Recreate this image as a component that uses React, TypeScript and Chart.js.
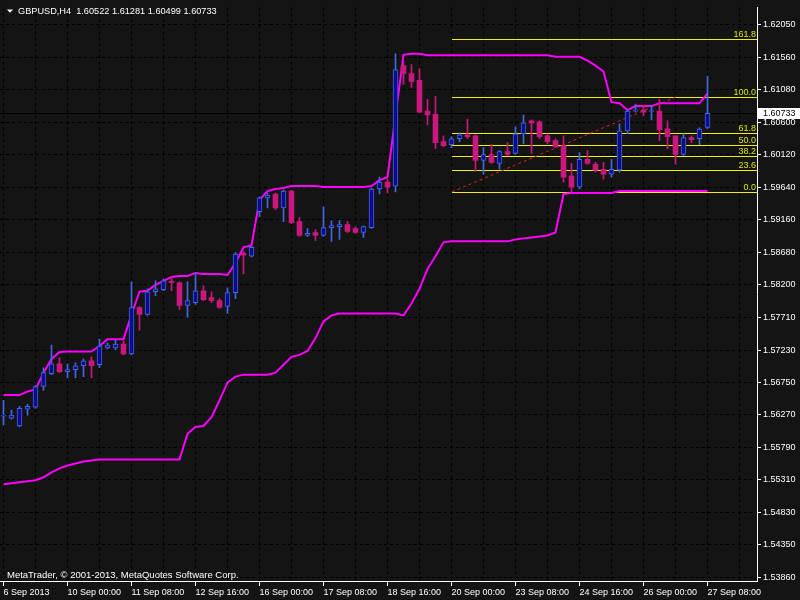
import React, { useEffect, useRef } from 'react';
import { Chart, registerables } from 'chart.js';

Chart.register(...registerables);

const headerText = 'GBPUSD,H4  1.60522 1.61281 1.60499 1.60733';
const watermarkText = 'MetaTrader, \u00A9 2001-2013, MetaQuotes Software Corp.';

const opens = [
  1.56254, 1.56224, 1.56108, 1.56356, 1.56385, 1.56692, 1.56881, 1.57027, 1.56911, 1.56940,
  1.56998, 1.57071, 1.57013, 1.57261, 1.57261, 1.57319, 1.57173, 1.57860, 1.57757, 1.58093,
  1.58122, 1.58239, 1.58225, 1.57889, 1.57933, 1.58108, 1.58006, 1.57962, 1.57874, 1.58079,
  1.58663, 1.58619, 1.59276, 1.59480, 1.59539, 1.59334, 1.59582, 1.59130, 1.58925, 1.58969,
  1.58925, 1.59042, 1.59057, 1.59086, 1.59028, 1.58969, 1.59042, 1.59612, 1.59714, 1.59655,
  1.61437, 1.61320, 1.61218, 1.60765, 1.60721, 1.60312, 1.60269, 1.60356, 1.60415, 1.60400,
  1.60035, 1.60123, 1.59991, 1.60167, 1.60137, 1.60429, 1.60619, 1.60604, 1.60400, 1.60327,
  1.60254, 1.59802, 1.59641, 1.60050, 1.59977, 1.59904, 1.59831, 1.59889, 1.60473, 1.60765,
  1.60779, 1.60758, 1.60765, 1.60502, 1.60400, 1.60123, 1.60371, 1.60356, 1.60522,
];
const highs = [
  1.56487, 1.56341, 1.56400, 1.56429, 1.56706, 1.56969, 1.57305, 1.57115, 1.57027, 1.57042,
  1.57100, 1.57130, 1.57392, 1.57334, 1.57378, 1.57363, 1.58239, 1.57874, 1.58137, 1.58254,
  1.58283, 1.58312, 1.58239, 1.58239, 1.58371, 1.58181, 1.58093, 1.57991, 1.58152, 1.58677,
  1.58692, 1.58765, 1.59495, 1.59553, 1.59553, 1.59597, 1.59597, 1.59188, 1.59028, 1.59013,
  1.59349, 1.59144, 1.59144, 1.59130, 1.59057, 1.59064, 1.59626, 1.59787, 1.59758, 1.61612,
  1.61495, 1.61451, 1.61393, 1.60940, 1.60984, 1.60400, 1.60385, 1.60444, 1.60648, 1.60415,
  1.60225, 1.60269, 1.60181, 1.60298, 1.60531, 1.60707, 1.60634, 1.60619, 1.60429, 1.60356,
  1.60400, 1.59991, 1.60152, 1.60181, 1.60006, 1.60006, 1.60050, 1.60575, 1.60794, 1.60867,
  1.60852, 1.60838, 1.60940, 1.60619, 1.60400, 1.60429, 1.60400, 1.60517, 1.61281,
];
const lows = [
  1.56122, 1.56210, 1.56093, 1.56268, 1.56370, 1.56633, 1.56867, 1.56896, 1.56823, 1.56823,
  1.56838, 1.56823, 1.56969, 1.57246, 1.57232, 1.57159, 1.57159, 1.57524, 1.57743, 1.58035,
  1.58108, 1.58108, 1.57830, 1.57714, 1.57904, 1.57962, 1.57933, 1.57845, 1.57772, 1.57991,
  1.58356, 1.58604, 1.59203, 1.59334, 1.59305, 1.59130, 1.59101, 1.58911, 1.58911, 1.58852,
  1.58911, 1.58838, 1.58867, 1.58969, 1.58955, 1.58896, 1.59028, 1.59539, 1.59553, 1.59568,
  1.61159, 1.61115, 1.60736, 1.60561, 1.60210, 1.60239, 1.60225, 1.60312, 1.60356, 1.59874,
  1.59831, 1.59991, 1.59904, 1.60108, 1.60123, 1.60283, 1.60137, 1.60356, 1.60283, 1.60225,
  1.59714, 1.59560, 1.59612, 1.59977, 1.59860, 1.59758, 1.59787, 1.59860, 1.60429, 1.60750,
  1.60692, 1.60634, 1.60327, 1.60210, 1.59977, 1.60108, 1.60298, 1.60269, 1.60499,
];
const closes = [
  1.56268, 1.56268, 1.56370, 1.56400, 1.56692, 1.56896, 1.57027, 1.56911, 1.56940, 1.56998,
  1.57071, 1.56998, 1.57290, 1.57305, 1.57319, 1.57173, 1.57860, 1.57757, 1.58093, 1.58137,
  1.58254, 1.58232, 1.57889, 1.57962, 1.58108, 1.57976, 1.57962, 1.57860, 1.58079, 1.58648,
  1.58633, 1.58750, 1.59480, 1.59524, 1.59334, 1.59582, 1.59115, 1.58925, 1.58955, 1.58925,
  1.59042, 1.59071, 1.59086, 1.58984, 1.58969, 1.59057, 1.59612, 1.59714, 1.59641, 1.61378,
  1.61320, 1.61203, 1.60750, 1.60707, 1.60298, 1.60254, 1.60356, 1.60415, 1.60385, 1.60035,
  1.60123, 1.60006, 1.60167, 1.60123, 1.60429, 1.60590, 1.60590, 1.60385, 1.60312, 1.60239,
  1.59787, 1.59641, 1.60050, 1.59991, 1.59889, 1.59831, 1.59904, 1.60473, 1.60765, 1.60779,
  1.60750, 1.60765, 1.60488, 1.60385, 1.60123, 1.60371, 1.60342, 1.60502, 1.60733,
];
const upperBand = [
  1.56565, 1.56565, 1.56565, 1.56618, 1.56648, 1.56896, 1.57100, 1.57202, 1.57209, 1.57209,
  1.57209, 1.57209, 1.57290, 1.57392, 1.57392, 1.57392, 1.57757, 1.58093, 1.58108, 1.58195,
  1.58254, 1.58312, 1.58327, 1.58327, 1.58371, 1.58356, 1.58356, 1.58356, 1.58342, 1.58517,
  1.58750, 1.58779, 1.59451, 1.59582, 1.59612, 1.59626, 1.59655, 1.59655, 1.59655, 1.59655,
  1.59641, 1.59641, 1.59641, 1.59641, 1.59641, 1.59641, 1.59655, 1.59743, 1.59787, 1.60692,
  1.61597, 1.61612, 1.61612, 1.61590, 1.61590, 1.61590, 1.61590, 1.61590, 1.61590, 1.61590,
  1.61590, 1.61590, 1.61590, 1.61590, 1.61590, 1.61590, 1.61590, 1.61590, 1.61590, 1.61568,
  1.61568, 1.61568, 1.61568, 1.61510, 1.61437, 1.61349, 1.60896, 1.60882, 1.60780, 1.60838,
  1.60838, 1.60838, 1.60882, 1.60882, 1.60882, 1.60882, 1.60882, 1.60882, 1.61028,
];
const lowerBand = [
  1.55246, 1.55261, 1.55276, 1.55290, 1.55305, 1.55349, 1.55422, 1.55480, 1.55524, 1.55553,
  1.55582, 1.55597, 1.55611, 1.55611, 1.55611, 1.55611, 1.55611, 1.55611, 1.55611, 1.55611,
  1.55611, 1.55611, 1.55611, 1.55991, 1.56093, 1.56108, 1.56239, 1.56487, 1.56750, 1.56838,
  1.56867, 1.56867, 1.56867, 1.56867, 1.56896, 1.57013, 1.57130, 1.57159, 1.57217, 1.57407,
  1.57655, 1.57743, 1.57772, 1.57772, 1.57772, 1.57772, 1.57772, 1.57772, 1.57772, 1.57772,
  1.57743, 1.57918, 1.58137, 1.58429, 1.58619, 1.58823, 1.58838, 1.58838, 1.58838, 1.58838,
  1.58838, 1.58838, 1.58838, 1.58838, 1.58867, 1.58882, 1.58896, 1.58911, 1.58925, 1.58969,
  1.59539, 1.59553, 1.59553, 1.59553, 1.59553, 1.59553, 1.59553, 1.59582, 1.59582, 1.59582,
  1.59582, 1.59582, 1.59582, 1.59582, 1.59582, 1.59582, 1.59582, 1.59582, 1.59582,
];

const timeTickBars = [0, 8, 16, 24, 32, 40, 48, 56, 64, 72, 80, 88];
const timeLabels = [
  '6 Sep 2013', '10 Sep 00:00', '11 Sep 08:00', '12 Sep 16:00', '16 Sep 00:00', '17 Sep 08:00',
  '18 Sep 16:00', '20 Sep 00:00', '23 Sep 08:00', '24 Sep 16:00', '26 Sep 00:00', '27 Sep 08:00',
];
const gridBars = [0, 4, 8, 12, 16, 20, 24, 28, 32, 36, 40, 44, 48, 52, 56, 60, 64, 68, 72, 76, 80, 84, 88, 92];
const priceTickLabels = [
  '1.62050', '1.61560', '1.61080', '1.60600', '1.60120', '1.59640', '1.59160', '1.58680', '1.58200',
  '1.57710', '1.57230', '1.56750', '1.56270', '1.55790', '1.55310', '1.54830', '1.54350', '1.53860',
];
const fibLevels = [0, 23.6, 38.2, 50, 61.8, 100, 161.8];
const fibLabels = ['0.0', '23.6', '38.2', '50.0', '61.8', '100.0', '161.8'];
const fibLow = 1.5957;
const fibHigh = 1.6097;
const fibStartBar = 56;
const fibEndBar = 84;
const lastPrice = 1.60733;
const lastPriceLabel = '1.60733';

const BG = '#141414';
const GRID = '#000000';
const AXIS = '#ffffff';
const TEXT = '#ffffff';
const BULL_FILL = '#0c0c8c';
const BULL_EDGE = '#4466e0';
const BEAR_FILL = '#c8187e';
const BAND = '#ff00ff';
const FIB = '#f0f000';
const FIB_TEXT = '#d8e800';
const TREND = '#e02020';
const FONT = '"Liberation Sans", Arial, sans-serif';

export default function App() {
  const ref = useRef<HTMLCanvasElement>(null);

  useEffect(() => {
    const canvas = ref.current!;
    const bars = opens.map((_, i) => i);
    const bullIdx = bars.filter((i) => closes[i] >= opens[i]);
    const bearIdx = bars.filter((i) => closes[i] < opens[i]);
    const fibPrice = (lvl: number) => fibLow + ((fibHigh - fibLow) * lvl) / 100;

    const overlay = {
      id: 'mtOverlay',
      beforeDraw(chart: any) {
        const c = chart.ctx;
        c.save();
        c.fillStyle = BG;
        c.fillRect(0, 0, chart.width, chart.height);
        c.restore();
      },
      beforeDatasetsDraw(chart: any) {
        const c = chart.ctx;
        const xs = chart.scales.x;
        const ys = chart.scales.y;
        const a = chart.chartArea;
        c.save();
        c.beginPath();
        c.rect(a.left, a.top, a.right - a.left, a.bottom - a.top);
        c.clip();
        const lp = Math.round(ys.getPixelForValue(lastPrice)) + 0.5;
        c.strokeStyle = '#000000';
        c.lineWidth = 1;
        c.beginPath();
        c.moveTo(a.left, lp);
        c.lineTo(a.right, lp);
        c.stroke();
        const x1 = Math.round(xs.getPixelForValue(fibStartBar));
        c.strokeStyle = FIB;
        fibLevels.forEach((lvl) => {
          const py = Math.round(ys.getPixelForValue(fibPrice(lvl))) + 0.5;
          c.beginPath();
          c.moveTo(x1, py);
          c.lineTo(a.right, py);
          c.stroke();
        });
        c.strokeStyle = TREND;
        c.setLineDash([3, 3]);
        c.beginPath();
        c.moveTo(x1, ys.getPixelForValue(fibLow));
        c.lineTo(xs.getPixelForValue(fibEndBar), ys.getPixelForValue(fibHigh));
        c.stroke();
        c.setLineDash([]);
        c.restore();
      },
      afterDraw(chart: any) {
        const c = chart.ctx;
        const ys = chart.scales.y;
        const a = chart.chartArea;
        c.save();
        c.font = `9px ${FONT}`;
        c.fillStyle = FIB_TEXT;
        c.textAlign = 'right';
        c.textBaseline = 'alphabetic';
        fibLevels.forEach((lvl, k) => {
          const py = Math.round(ys.getPixelForValue(fibPrice(lvl)));
          c.fillText(fibLabels[k], a.right - 1, py - 2);
        });
        c.fillStyle = TEXT;
        c.beginPath();
        c.moveTo(7, 9.5);
        c.lineTo(13, 9.5);
        c.lineTo(10, 12.8);
        c.closePath();
        c.fill();
        c.textAlign = 'left';
        c.font = `9.2px ${FONT}`;
        c.fillText(headerText, 18, 14);
        c.font = `9.5px ${FONT}`;
        c.fillText(watermarkText, 7, 578);
        c.font = `9px ${FONT}`;
        const lp = Math.round(ys.getPixelForValue(lastPrice));
        c.fillStyle = '#ffffff';
        c.fillRect(a.right + 1, lp - 5, chart.width - a.right - 1, 11);
        c.fillStyle = '#000000';
        c.textBaseline = 'middle';
        c.fillText(lastPriceLabel, a.right + 6, lp + 0.5);
        c.restore();
      },
    };

    const bodyCommon = { grouped: false, barThickness: 5, minBarLength: 1, borderSkipped: false as any };
    const wickCommon = { grouped: false, barThickness: 1, minBarLength: 1, borderWidth: 0 };

    const chart = new Chart(canvas, {
      type: 'bar',
      data: {
        datasets: [
          {
            type: 'bar',
            label: 'bull body',
            data: bullIdx.map((i) => ({ x: i, y: [opens[i], closes[i]] })) as any,
            backgroundColor: BULL_FILL,
            borderColor: BULL_EDGE,
            borderWidth: 1,
            ...bodyCommon,
          },
          {
            type: 'bar',
            label: 'bear body',
            data: bearIdx.map((i) => ({ x: i, y: [opens[i], closes[i]] })) as any,
            backgroundColor: BEAR_FILL,
            borderWidth: 0,
            ...bodyCommon,
          },
          {
            type: 'bar',
            label: 'bull wick',
            data: bullIdx.map((i) => ({ x: i, y: [lows[i], highs[i]] })) as any,
            backgroundColor: BULL_EDGE,
            ...wickCommon,
          },
          {
            type: 'bar',
            label: 'bear wick',
            data: bearIdx.map((i) => ({ x: i, y: [lows[i], highs[i]] })) as any,
            backgroundColor: BEAR_FILL,
            ...wickCommon,
          },
          {
            type: 'line',
            label: 'upper',
            data: upperBand.map((v, i) => ({ x: i, y: v })) as any,
            borderColor: BAND,
            borderWidth: 2,
            pointRadius: 0,
            tension: 0,
          },
          {
            type: 'line',
            label: 'lower',
            data: lowerBand.map((v, i) => ({ x: i, y: v })) as any,
            borderColor: BAND,
            borderWidth: 2,
            pointRadius: 0,
            tension: 0,
          },
        ] as any,
      },
      options: {
        animation: false,
        responsive: false,
        devicePixelRatio: 1,
        events: [],
        layout: { padding: 0 },
        plugins: { legend: { display: false }, tooltip: { enabled: false } },
        scales: {
          x: {
            type: 'linear',
            position: 'bottom',
            offset: false,
            min: -0.4375,
            max: 94.1875,
            bounds: 'data',
            afterBuildTicks: (s: any) => {
              s.ticks = gridBars.map((v) => ({ value: v }));
            },
            afterFit: (s: any) => {
              s.height = 19;
            },
            ticks: {
              autoSkip: false,
              maxRotation: 0,
              minRotation: 0,
              align: 'start',
              color: TEXT,
              padding: 1,
              font: { family: FONT, size: 9 },
              callback: (v: any) => {
                const k = timeTickBars.indexOf(Number(v));
                return k >= 0 ? timeLabels[k] : '';
              },
            },
            grid: {
              offset: false,
              color: GRID,
              lineWidth: 1,
              tickLength: 5,
              tickColor: (ctx: any) =>
                ctx.tick && timeTickBars.indexOf(ctx.tick.value) >= 0 ? AXIS : 'rgba(0,0,0,0)',
            },
            border: { display: true, color: AXIS, width: 1, dash: [3, 3] },
          } as any,
          y: {
            type: 'linear',
            position: 'right',
            min: 1.53815,
            max: 1.62298,
            bounds: 'data',
            afterBuildTicks: (s: any) => {
              s.ticks = priceTickLabels.map((t) => ({ value: parseFloat(t) }));
            },
            afterFit: (s: any) => {
              s.width = 43;
            },
            ticks: {
              autoSkip: false,
              color: TEXT,
              padding: 2,
              font: { family: FONT, size: 9 },
              callback: (_v: any, i: number) => priceTickLabels[i],
            },
            grid: { color: GRID, lineWidth: 1, tickLength: 4, tickColor: AXIS },
            border: { display: true, color: AXIS, width: 1, dash: [3, 3] },
          } as any,
        },
      },
      plugins: [overlay],
    });
    return () => chart.destroy();
  }, []);

  return (
    <div style={{ position: 'absolute', left: 0, top: 0, width: 800, height: 600 }}>
      <canvas ref={ref} width={800} height={600} style={{ display: 'block', width: 800, height: 600 }} />
    </div>
  );
}
